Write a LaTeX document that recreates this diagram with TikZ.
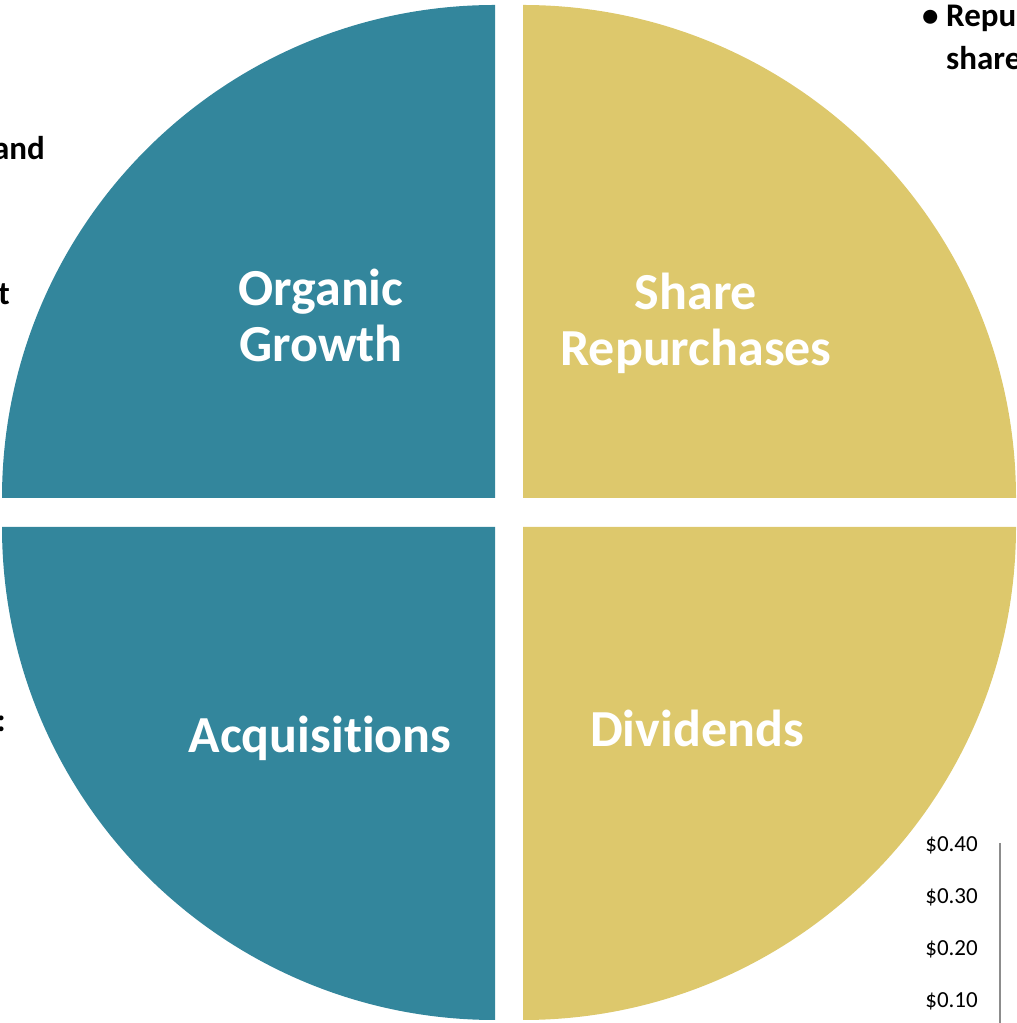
\documentclass[tikz,border=0pt]{standalone}
\usepackage{fontspec}
\setmainfont{Carlito}[Ligatures={NoCommon}]
\definecolor{qteal}{HTML}{33869C}
\definecolor{qgold}{HTML}{DDC86C}
\tikzset{>=latex}

\begin{document}
\begin{tikzpicture}[x=1pt,y=1pt,
    quadlabel/.style={text=white,align=center,inner sep=0,
      font=\bfseries\fontsize{52}{56}\selectfont},
    sidetext/.style={text=black,align=left,inner sep=0,
      font=\bfseries\fontsize{33}{43}\selectfont},
    ticklabel/.style={inner sep=0,font=\fontsize{23}{26}\selectfont}]
    \useasboundingbox (0,0) rectangle (1017,1023);
    % four quarters of the disc, pulled apart
    \foreach\cx/\cy/\ang/\col in {495/525/90/qteal,523/525/0/qgold,
                                  495/496/180/qteal,523/496/270/qgold}{
     \fill[\col] (\cx,\cy) -- ++(\ang:493)
       arc[start angle=\ang,delta angle=90,radius=493] -- cycle;}
    \node[quadlabel,anchor=base] (organic) at (321,661) {Organic\\Growth};
    \node[quadlabel,anchor=base] (share) at (696,657) {Share\\Repurchases};
    \node[quadlabel,anchor=base] (acq) at (320,270) {Acquisitions};
    \node[quadlabel,anchor=base] (div) at (697,276) {Dividends};
    % text cut off at the edges
    \node[sidetext,anchor=base west] (repu) at (922,953)
      {\makebox[24pt][l]{•}Repu\\\hspace*{24pt}share};
    \node[sidetext,anchor=base east] (andtxt) at (45,863) {and};
    \node[sidetext,anchor=base east] (ttxt) at (10,718) {t};
    \node[sidetext,anchor=base east] (colon) at (6,291) {:};
    % axis of the small chart
    \foreach\v [count=\i] in {0.40,0.30,0.20,0.10}{
     \node[ticklabel,anchor=base east] (tick\i) at (978,{171-(\i-1)*52}) {\$\v};}
    \coordinate (axtop) at (1000,180);
    \coordinate (axbot) at (1000,0);
    \draw[black!45,line width=1.5pt] (axtop) -- (axbot);
  \end{tikzpicture}
\end{document}
